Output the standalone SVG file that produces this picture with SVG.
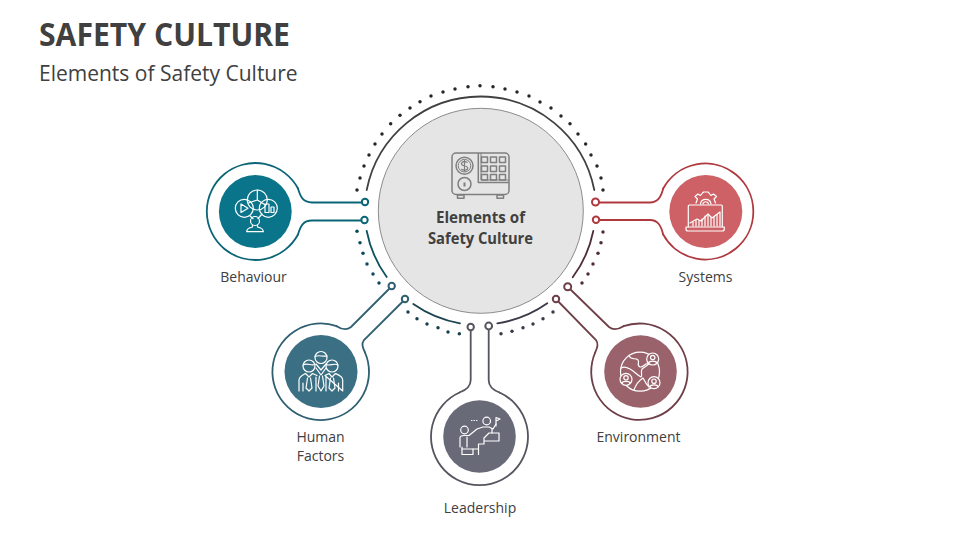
<svg xmlns="http://www.w3.org/2000/svg" width="960" height="540" viewBox="0 0 960 540">
<style>
text{font-family:"Open Sans","Noto Sans","Liberation Sans",sans-serif;fill:#404040}
.lbl{font-size:14px;text-anchor:middle}
.ctr{font-size:15.5px;font-weight:700;text-anchor:middle}
.ln{fill:none;stroke-width:1.8;stroke-linecap:round}
.end{fill:#fff;stroke-width:2}
.ic{fill:none;stroke:#fff;stroke-width:1.2;stroke-linejoin:round;stroke-linecap:round}
.safe{fill:none;stroke:#7f7f7f;stroke-width:1.5;stroke-linejoin:round}
.teal{stroke:#0a6577}.red{stroke:#b0393f}.hf{stroke:#2f5f70}.lead{stroke:#55555f}.env{stroke:#6e3f48}
</style>
<rect width="960" height="540" fill="#fff"/>
<text x="39" y="46" font-size="33" font-weight="700" textLength="251" lengthAdjust="spacingAndGlyphs">SAFETY CULTURE</text>
<text x="39" y="81" font-size="21">Elements of Safety Culture</text>

<g id="center">
<circle cx="480.8" cy="210.8" r="102.5" fill="#e5e5e5" stroke="#8c8c8c" stroke-width="1"/>
<g fill="none" stroke-width="1.8" stroke-linecap="round">
<path d="M366.7,190A116 116 0 0 1 594.3,190" stroke="#404040"/>
<path d="M366.7,231A116 116 0 0 0 386.7,277" stroke="#0d5260"/>
<path d="M413.3,304A116 116 0 0 0 460,323.3" stroke="#1c4452"/>
<path d="M497.3,323.3A116 116 0 0 0 547.3,303.3" stroke="#3a3a48"/>
<path d="M572.7,277.3A116 116 0 0 0 593.3,231" stroke="#4f2d36"/>
</g>
<g transform="translate(340 70) scale(.33333)">
<g fill="#262626">
<circle cx="420" cy="47" r="5.2"/><circle cx="459" cy="50" r="5.2"/><circle cx="495" cy="57" r="5.2"/><circle cx="531" cy="66" r="5.2"/><circle cx="567" cy="78" r="5.2"/><circle cx="600" cy="96" r="5.2"/><circle cx="633" cy="114" r="5.2"/><circle cx="663" cy="138" r="5.2"/><circle cx="690" cy="161" r="5.2"/><circle cx="714" cy="192" r="5.2"/><circle cx="737" cy="222" r="5.2"/><circle cx="753" cy="255" r="5.2"/><circle cx="771" cy="288" r="5.2"/><circle cx="783" cy="324" r="5.2"/><circle cx="789" cy="360" r="5.2"/>
<circle cx="384" cy="50" r="5.2"/><circle cx="345" cy="57" r="5.2"/><circle cx="309" cy="66" r="5.2"/><circle cx="273" cy="78" r="5.2"/><circle cx="240" cy="95" r="5.2"/><circle cx="210" cy="114" r="5.2"/><circle cx="180" cy="136" r="5.2"/><circle cx="152" cy="161" r="5.2"/><circle cx="126" cy="192" r="5.2"/><circle cx="105" cy="222" r="5.2"/><circle cx="87" cy="255" r="5.2"/><circle cx="72" cy="288" r="5.2"/><circle cx="60" cy="324" r="5.2"/><circle cx="51" cy="360" r="5.2"/>
</g>
<g fill="#0d4a57">
<circle cx="51" cy="484" r="5.2"/><circle cx="60" cy="518" r="5.2"/><circle cx="69" cy="550" r="5.2"/><circle cx="81" cy="582" r="5.2"/><circle cx="99" cy="612" r="5.2"/><circle cx="117" cy="639" r="5.2"/>
</g>
<g fill="#17404e">
<circle cx="204" cy="726" r="5.2"/><circle cx="231" cy="746" r="5.2"/><circle cx="261" cy="762" r="5.2"/><circle cx="294" cy="773" r="5.2"/><circle cx="324" cy="786" r="5.2"/><circle cx="358" cy="791" r="5.2"/>
</g>
<g fill="#3a3a48">
<circle cx="483" cy="791" r="5.2"/><circle cx="516" cy="784" r="5.2"/><circle cx="549" cy="773" r="5.2"/><circle cx="579" cy="762" r="5.2"/><circle cx="609" cy="746" r="5.2"/><circle cx="639" cy="726" r="5.2"/>
</g>
<g fill="#4f2d36">
<circle cx="789" cy="486" r="5.2"/><circle cx="783" cy="518" r="5.2"/><circle cx="774" cy="550" r="5.2"/><circle cx="759" cy="582" r="5.2"/><circle cx="744" cy="612" r="5.2"/><circle cx="726" cy="639" r="5.2"/>
</g>
</g>
<g class="safe">
<rect x="452" y="153" width="57" height="41.5" rx="4"/>
<path d="M478.3,153V182.5H509"/>
<path d="M481,153V180H509" stroke-width="1"/>
<rect x="457.5" y="195" width="6.5" height="3.2"/><rect x="497" y="195" width="6.500" height="3.2"/>
<circle cx="464.5" cy="165.7" r="8.5"/><circle cx="464.5" cy="165.7" r="6.3" stroke-width="1"/>
<path d="M467.5,162.6C466,161 461.5,161.2 461.5,163.8C461.5,167 467.700,165 467.700,168C467.700,170.6 463,170.800 461.300,169M464.500,159.800V171.800" stroke-width="1.2"/>
<circle cx="464.500" cy="184" r="6.500"/>
<path d="M464.500,182.500V186.500" stroke-width="2"/>
<rect x="481.500" y="157" width="6" height="5.500"/><rect x="490.500" y="157" width="6" height="5.500"/><rect x="499.500" y="157" width="6" height="5.500"/>
<rect x="481.500" y="166" width="6" height="5.500"/><rect x="490.500" y="166" width="6" height="5.500"/><rect x="499.500" y="166" width="6" height="5.500"/>
<rect x="481.500" y="174.500" width="6" height="5.500"/><rect x="490.500" y="174.500" width="6" height="5.500"/><rect x="499.500" y="174.500" width="6" height="5.500"/>
</g>
<text class="ctr" x="480.500" y="222.500" textLength="89" lengthAdjust="spacingAndGlyphs">Elements of</text>
<text class="ctr" x="480.500" y="243.500" textLength="105" lengthAdjust="spacingAndGlyphs">Safety Culture</text>
</g>

<g id="connectors">
<path class="ln teal" d="M298,188.500C300.500,197 303,202.500 312,202.500H362"/>
<path class="ln teal" d="M298,234.500C300.500,226 303,220.500 312,220.500H362"/>
<path class="ln red" d="M663.200,188.500C661,197 658,202.500 650,202.500H599"/>
<path class="ln red" d="M663.200,234.500C661,226 658,220 650,220H599"/>
<path class="ln hf" d="M336.700,326.200C341,329 346,331 351,327L389.500,288.500"/>
<path class="ln hf" d="M365,352.500C363,348 361,344 364,340L402.800,301.500"/>
<path class="ln lead" d="M459.500,392.500C466,390 470.700,387 470.700,380V330"/>
<path class="ln lead" d="M499.500,392.500C493,390 488.700,387 488.700,380V329"/>
<path class="ln env" d="M623.500,326.200C619,329 614,331 609,327L570,289"/>
<path class="ln env" d="M595.200,352.500C597,348 599,344 596,340L558.300,301.500"/>
<circle class="end teal" cx="365" cy="202" r="3.200"/><circle class="end teal" cx="364.500" cy="220" r="3.200"/>
<circle class="end red" cx="595.500" cy="202" r="3.500"/><circle class="end red" cx="596" cy="219.700" r="3.200"/>
<circle class="end hf" cx="391.700" cy="286" r="3.200"/><circle class="end hf" cx="405" cy="299" r="3.200"/>
<circle class="end lead" cx="470.700" cy="327" r="3.200"/><circle class="end lead" cx="488.700" cy="326" r="3.400"/>
<circle class="end env" cx="567.700" cy="286.700" r="3.500"/><circle class="end env" cx="556" cy="299" r="3.200"/>
</g>

<g id="behaviour">
<path class="ln teal" d="M298,188.500A48.500 48.500 0 1 0 298,234.500"/>
<circle cx="255.300" cy="211.500" r="36.400" fill="#0a748a"/>
<g class="ic">
<circle cx="244.300" cy="208.300" r="9"/><circle cx="257.300" cy="200" r="10"/><circle cx="268.300" cy="208.300" r="9"/>
<path d="M241,204V212.500L248,208.300Z"/>
<path d="M257.300,190V200L265.500,205M257.300,200L248.500,203"/>
<path d="M265,204V212.500H269V204ZM271,207V212.500H274V207Z"/>
<path d="M250,216L253,218.500M262,214L258,218.500"/>
<circle cx="255" cy="221" r="4.500"/>
<path d="M252.500,225V227C248,228 246.700,229.500 246.700,231.700H263.300C263.300,229.500 262,228 257.500,227V225"/>
</g>
<text class="lbl" x="253.500" y="282">Behaviour</text>
</g>

<g id="systems">
<path class="ln red" d="M663.200,188.500A48 48 0 1 1 663.200,234.500"/>
<circle cx="705.800" cy="211.500" r="36.500" fill="#cd6166"/>
<g class="ic">
<path d="M696,203L697.500,199L695,196.500L698,194L700.500,195.500L702.500,193L703.500,192H708L709,193L711,195.500L713.500,194L716.500,196.500L714,199L715.500,203"/>
<path d="M700.500,204A5.300 5.300 0 0 1 711,204M703,204A2.800 2.800 0 0 1 708.500,204"/>
<path d="M688.300,226.700V206C688.300,205.300 688.800,205 689.500,205H721C721.800,205 722.300,205.300 722.300,206V226.700"/>
<path d="M686,227H724.300V229C724.300,230.300 723.500,231 722.300,231H688C686.800,231 686,230.300 686,229Z"/>
<path d="M690,223L697,219L701,221L708,214L712,218L720,212"/>
<path d="M693,226V222M696,226V220.500M699,226V220.500M702,226V219M705,226V216M708,226V215M711,226V218M714,226V216.500M717,226V214.500M720,226V212.500"/>
</g>
<text class="lbl" x="705.500" y="282">Systems</text>
</g>

<g id="human-factors">
<path class="ln hf" d="M336.700,326.200A48.300 48.300 0 1 0 365,352.500"/>
<circle cx="321" cy="371.500" r="36.500" fill="#3a6f84"/>
<g class="ic">
<circle cx="321" cy="357.500" r="6"/><circle cx="309" cy="366" r="6"/><circle cx="332" cy="366" r="6"/>
<path d="M315,356.500C319,354.500 323,357 327,356M303,365C307,362.500 311,366 315,364.500M326,364.500C330,366.500 334,362.500 338,365"/>
<path d="M299,391V380C299,376.500 303,375 305.500,373.500L309,377L312.500,373.500L317,375.500M325,375.500L329,373.500L332,377L335.500,373.500C339,375 342.700,376.500 342.700,380V391Z"/>
<path d="M316,364L321,370L326,364M316,368L321,375L326,368"/>
<path d="M307.500,378L306,388L309,391L312,388L310.500,378M330.500,378L329,388L332,391L335,388L333.500,378M319.500,376L318,386L321,391L324,386L322.500,376"/>
<path d="M303,391V383M338.500,391V383M316,391V377M326,391V377"/>
</g>
<text class="lbl" x="320.500" y="442">Human</text>
<text class="lbl" x="320.500" y="461">Factors</text>
</g>

<g id="leadership">
<path class="ln lead" d="M459.500,392.500A48.500 48.500 0 1 0 499.500,392.500"/>
<circle cx="479.500" cy="436.500" r="36.300" fill="#686a78"/>
<g class="ic">
<circle cx="464.500" cy="430" r="3.800"/><circle cx="486.700" cy="421" r="3.800"/>
<path d="M471.500,420.500H472M474,420.500H474.500M476.500,420.500H477"/>
<path d="M496,426V417.500L500,419L496,421"/>
<path d="M460,447V438C460,436 462,435.500 464,435.500H469L477,429L483,427H489L493,429L496,424"/>
<path d="M462,447V454.500H473V449H478.500V444H484V438L489,433H499V441H484"/>
<path d="M467,437V447M473,449H462M478.500,449V454.500M492,433V429"/>
</g>
<text class="lbl" x="480" y="513">Leadership</text>
</g>

<g id="environment">
<path class="ln env" d="M623.500,326.200A48.200 48.200 0 1 1 595.200,352.500"/>
<circle cx="640.500" cy="371.500" r="36.300" fill="#9a636c"/>
<g class="ic">
<circle cx="640" cy="371.700" r="19.500"/>
<path d="M629,356C632,361 635,357 638,360C640,363 636,365 640,367C644,367.500 645,362 649,364L642,369C640,373 643,376 641,377C637,375 634,371 630,369C627,367.500 624,366 621.500,368"/>
<path d="M634,390C636,384 640,380 643,378C645,382 647,385 649,387"/>
<g fill="#9a636c">
<circle cx="652.700" cy="359" r="6"/><circle cx="626" cy="379.300" r="6"/><circle cx="654" cy="382.700" r="6"/>
</g>
<circle cx="652.700" cy="357.500" r="2.200"/><path d="M648.500,363C649.500,360.500 656,360.500 657,363"/>
<circle cx="626" cy="377.800" r="2.200"/><path d="M621.800,383.300C622.800,380.800 629.200,380.800 630.200,383.300"/>
<circle cx="654" cy="381.200" r="2.200"/><path d="M649.800,386.700C650.800,384.200 657.200,384.200 658.200,386.700"/>
</g>
<text class="lbl" x="638.500" y="442">Environment</text>
</g>
</svg>
